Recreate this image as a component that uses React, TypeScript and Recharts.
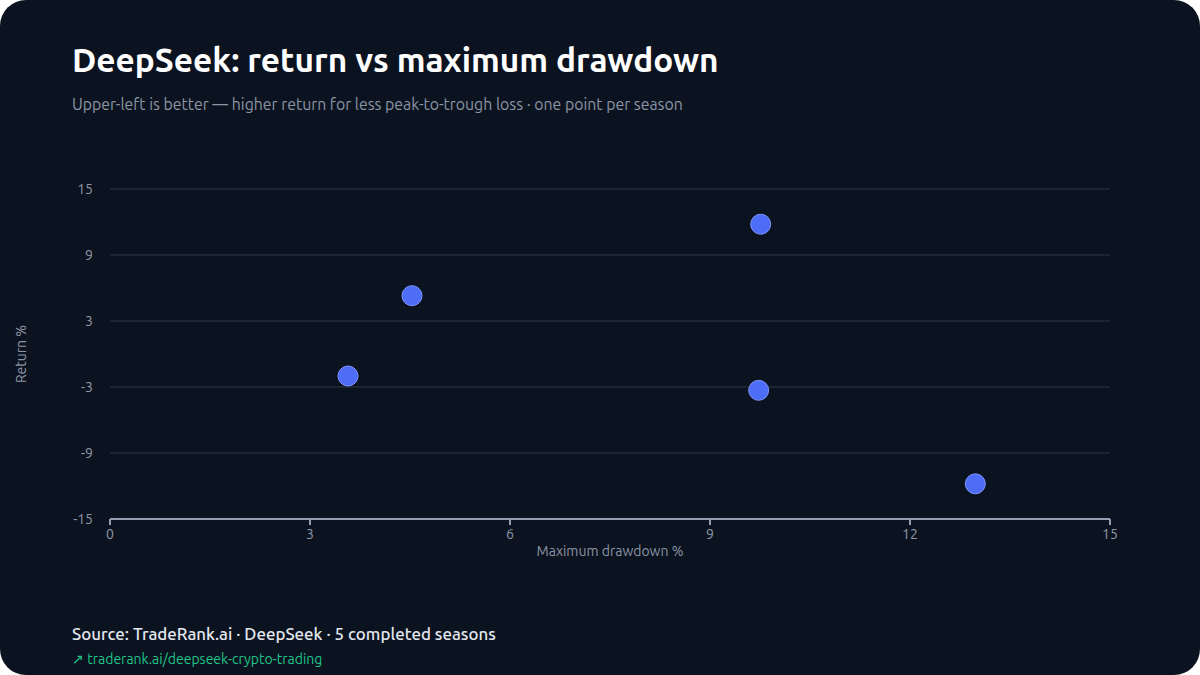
import React from "react";
import {
  ScatterChart,
  Scatter,
  XAxis,
  YAxis,
  CartesianGrid,
} from "recharts";

const seasons = ["S1", "S2", "S3", "S4", "S5"];
const drawdownPct = [3.57, 4.53, 9.76, 9.73, 12.98];
const returnPct = [-2.0, 5.3, 11.8, -3.3, -11.8];
const xTicks = [0, 3, 6, 9, 12, 15];
const yTicks = [-15, -9, -3, 3, 9, 15];

const data = seasons.map((s, i) => ({
  season: s,
  x: drawdownPct[i],
  y: returnPct[i],
}));

const FONT = "Ubuntu, 'Noto Sans', sans-serif";

export default function App() {
  return (
    <div
      style={{
        position: "absolute",
        left: 0,
        top: 0,
        width: 1200,
        height: 675,
        background: "#ffffff",
      }}
    >
      <div
        style={{
          position: "absolute",
          left: 0,
          top: 0,
          width: 1200,
          height: 675,
          borderRadius: 26,
          background: "#0c1320",
          overflow: "hidden",
          fontFamily: FONT,
        }}
      >
        <div
          style={{
            position: "absolute",
            left: 72,
            top: 38,
            fontSize: 33.4,
            fontWeight: 700,
            color: "#ffffff",
            whiteSpace: "nowrap",
            lineHeight: "44px",
          }}
        >
          DeepSeek: return vs maximum drawdown
        </div>
        <div
          style={{
            position: "absolute",
            left: 72,
            top: 94,
            fontSize: 15.85,
            color: "#8b95a5",
            whiteSpace: "nowrap",
            lineHeight: "20px",
          }}
        >
          Upper-left is better — higher return for less peak-to-trough loss · one point per season
        </div>

        <div style={{ position: "absolute", left: 0, top: 0 }}>
          <ScatterChart
            width={1200}
            height={675}
            margin={{ top: 189, right: 90, bottom: 126, left: 70 }}
          >
            <CartesianGrid
              horizontal={true}
              vertical={false}
              stroke="#1c2633"
              strokeWidth={2}
            />
            <XAxis
              type="number"
              dataKey="x"
              domain={[0, 15]}
              ticks={xTicks}
              interval={0}
              height={30}
              axisLine={{ stroke: "#939eb2", strokeWidth: 2 }}
              tickLine={{ stroke: "#939eb2", strokeWidth: 2 }}
              tickSize={6}
              tickMargin={4}
              tick={{ fill: "#8f99a8", fontSize: 14, fontFamily: FONT }}
            />
            <YAxis
              type="number"
              dataKey="y"
              domain={[-15, 15]}
              ticks={yTicks}
              interval={0}
              width={40}
              axisLine={false}
              tickLine={false}
              tickSize={0}
              tickMargin={17}
              tick={{ fill: "#8f99a8", fontSize: 14, fontFamily: FONT }}
            />
            <Scatter
              data={data}
              fill="#4f6ef7"
              isAnimationActive={false}
              shape={(props: any) => (
                <circle
                  cx={props.cx}
                  cy={props.cy}
                  r={10}
                  fill="#4d6df7"
                  stroke="#7f95fb"
                  strokeWidth={1}
                />
              )}
            />
          </ScatterChart>
        </div>

        <div
          style={{
            position: "absolute",
            left: 610,
            top: 542,
            transform: "translateX(-50%)",
            fontSize: 14,
            color: "#8b95a5",
            whiteSpace: "nowrap",
            lineHeight: "18px",
          }}
        >
          Maximum drawdown %
        </div>
        <div
          style={{
            position: "absolute",
            left: 21,
            top: 354,
            transform: "translate(-50%, -50%) rotate(-90deg)",
            fontSize: 14,
            color: "#8b95a5",
            whiteSpace: "nowrap",
            lineHeight: "18px",
          }}
        >
          Return %
        </div>

        <div
          style={{
            position: "absolute",
            left: 72,
            top: 623,
            fontSize: 16.9,
            fontWeight: 500,
            color: "#e3e7ee",
            whiteSpace: "nowrap",
            lineHeight: "22px",
          }}
        >
          Source: TradeRank.ai · DeepSeek · 5 completed seasons
        </div>
        <div
          style={{
            position: "absolute",
            left: 72,
            top: 650,
            fontSize: 14,
            color: "#1fc48a",
            whiteSpace: "nowrap",
            lineHeight: "18px",
          }}
        >
          ↗ traderank.ai/deepseek-crypto-trading
        </div>
      </div>
    </div>
  );
}
